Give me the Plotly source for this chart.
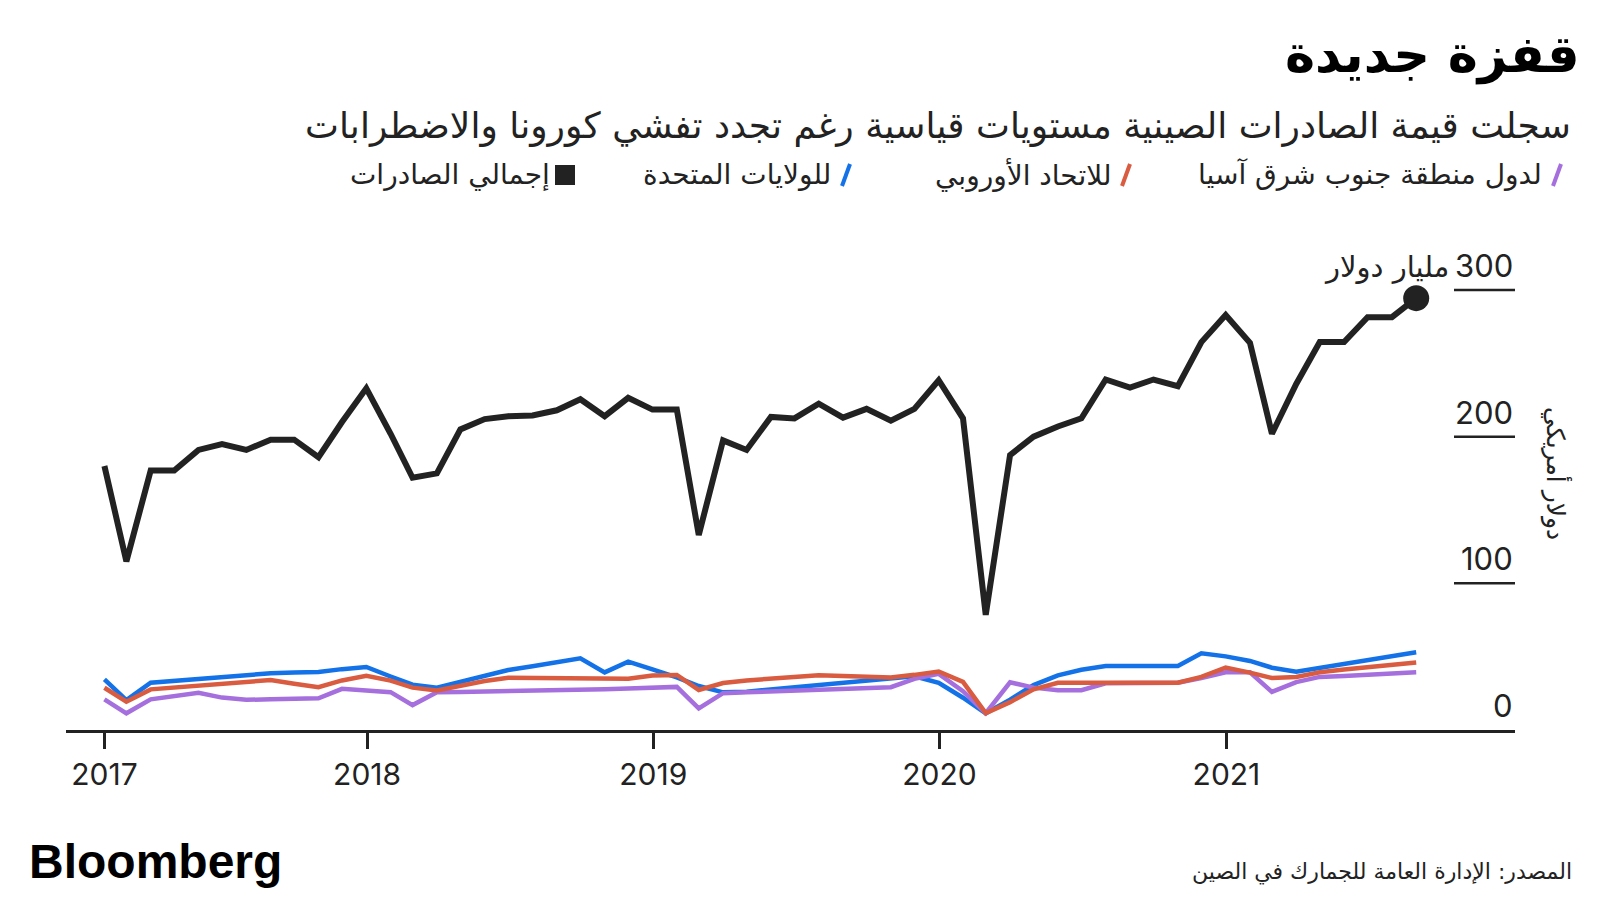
import pandas as pd
import plotly.graph_objects as go

# ---------------- data (billion USD, monthly, Jan 2017 - Aug 2021) ----------------
months = pd.date_range("2017-01-31", periods=56, freq="ME")

total_exports = [
    180, 115, 177, 177, 191, 195, 191, 198, 198, 186, 210, 233,
    202, 172, 175, 205, 212, 214, 214.5, 218, 225.5, 214, 226.5, 218.5,
    218.5, 133, 197.5, 191, 213.5, 212.5, 222.5, 213, 219, 211, 219, 238.5,
    212.5, 78.5, 187.5, 200, 207, 212.5, 239, 233.5, 239, 234.5, 264.5, 283,
    264, 202, 236, 264.5, 264.5, 281.5, 281.5, 294.5,
]
us_exports = [
    34.6, 20.4, 32.2, 33.6, 34.9, 36.2, 37.4, 38.7, 39.2, 39.5, 41.5, 43.0,
    36.5, 30.9, 28.8, 33.0, 37.3, 40.9, 43.5, 46.2, 48.9, 39.3, 46.6, 41.4,
    35.9, 30.0, 25.7, 26.1, 27.6, 29.0, 30.5, 31.9, 33.4, 34.9, 36.6, 32.2,
    22.0, 11.4, 20.7, 30.6, 37.3, 41.1, 43.6, 43.6, 43.6, 43.6, 52.3, 50.2,
    47.1, 42.5, 39.8, 42.4, 45.1, 47.7, 50.3, 53.0,
]
eu_exports = [
    28.8, 19.3, 27.7, 29.1, 30.4, 31.6, 32.9, 34.1, 31.6, 29.2, 33.8, 37.0,
    33.7, 28.9, 27.0, 30.2, 33.4, 35.6, 35.5, 35.4, 35.2, 35.0, 35.0, 37.2,
    37.5, 27.3, 32.0, 33.8, 35.2, 36.6, 37.3, 36.8, 36.3, 35.8, 37.6, 39.9,
    32.8, 11.5, 19.0, 27.8, 32.2, 32.2, 32.2, 32.2, 32.2, 32.2, 36.2, 42.6,
    39.1, 35.5, 36.2, 39.4, 41.2, 42.8, 44.4, 46.1,
]
asean_exports = [
    20.9, 11.4, 20.9, 23.1, 25.4, 22.1, 20.6, 20.9, 21.3, 21.6, 28.1, 27.0,
    25.8, 17.0, 25.7, 25.9, 26.1, 26.3, 26.5, 26.7, 27.3, 27.8, 28.3, 28.9,
    29.4, 14.8, 25.1, 25.7, 26.3, 26.9, 27.4, 28.0, 28.6, 29.2, 34.9, 38.3,
    26.5, 11.5, 32.5, 28.9, 27.1, 27.1, 31.8, 32.0, 32.1, 32.2, 35.5, 39.3,
    39.3, 26.0, 32.7, 36.2, 36.9, 37.7, 38.5, 39.3,
]

year_tickvals = ["2017-01-31", "2018-01-01", "2019-01-01", "2020-01-01", "2021-01-01"]
year_ticktext = ["2017", "2018", "2019", "2020", "2021"]
y_ticks = [0, 100, 200, 300]

title_text = "قفزة جديدة"
subtitle_text = "سجلت قيمة الصادرات الصينية مستويات قياسية رغم تجدد تفشي كورونا والاضطرابات"
legend_items = [
    ("لدول منطقة جنوب شرق آسيا", "#A56FDD", "slash"),
    ("للاتحاد الأوروبي", "#D95B40", "slash"),
    ("للولايات المتحدة", "#1372E8", "slash"),
    ("إجمالي الصادرات", "#222222", "square"),
]
unit_text = "مليار دولار"
axis_title_text = "دولار أمريكي"
source_text = "المصدر: الإدارة العامة للجمارك في الصين"

# ---------------- styling / layout ----------------
OFF = 8                      # default page body margin
W, H = 1600 - OFF, 900 - OFF
L, R, T = 66 - OFF, 85, 260 - OFF
B = H - (730 - OFF)
PW, PH = W - L - R, H - T - B
AR = "DejaVu Sans, Noto Sans, sans-serif"
NUM = "Inter, Roboto, sans-serif"
INK = "#222222"


def px(x):
    """screen x (page px) -> paper fraction"""
    return (x - OFF - L) / PW


def py(y):
    """screen y (page px) -> paper fraction"""
    return (H - B - (y - OFF)) / PH


fig = go.Figure()
fig.add_trace(go.Scatter(x=months, y=us_exports, mode="lines",
                         line=dict(color="#1372E8", width=4.5), showlegend=False))
fig.add_trace(go.Scatter(x=months, y=asean_exports, mode="lines",
                         line=dict(color="#A56FDD", width=4.5), showlegend=False))
fig.add_trace(go.Scatter(x=months, y=eu_exports, mode="lines",
                         line=dict(color="#D95B40", width=4.5), showlegend=False))
fig.add_trace(go.Scatter(x=months, y=total_exports, mode="lines",
                         line=dict(color=INK, width=6), showlegend=False))
fig.add_trace(go.Scatter(x=[months[-1]], y=[total_exports[-1]], mode="markers",
                         marker=dict(color=INK, size=26), showlegend=False,
                         cliponaxis=False))

shapes = []
annotations = []
# right-hand y tick marks and labels
for t in y_ticks:
    if t > 0:
        shapes.append(dict(type="line", xref="paper", yref="y", x0=px(1454), x1=1,
                           y0=t, y1=t, line=dict(color=INK, width=2.5)))
    annotations.append(dict(xref="paper", yref="y", x=1, y=t, xanchor="right",
                            yanchor="bottom", yshift=4, showarrow=False,
                            text=str(t), font=dict(family=NUM, size=31, color=INK)))
annotations.append(dict(xref="paper", yref="y", x=px(1451), y=300, xanchor="right",
                        yanchor="bottom", yshift=4, showarrow=False, text=unit_text,
                        font=dict(family=AR, size=29, color=INK)))
annotations.append(dict(xref="paper", yref="paper", x=px(1557), y=py(474),
                        xanchor="center", yanchor="middle", showarrow=False,
                        textangle=90, text=axis_title_text,
                        font=dict(family=AR, size=25, color=INK)))

# title / subtitle
annotations.append(dict(xref="paper", yref="paper", x=px(1582), y=py(55),
                        xanchor="right", yanchor="middle", showarrow=False,
                        text="<b>" + title_text + "</b>",
                        font=dict(family=AR, size=51, color="#000000")))
annotations.append(dict(xref="paper", yref="paper", x=px(938), y=py(126),
                        xanchor="center", yanchor="middle", showarrow=False,
                        text=subtitle_text, font=dict(family=AR, size=36, color=INK)))

# legend (RTL, glyph on the right of the text)
legend_glyph_x = [1557, 1126, 846, 565]
legend_y = 175
for (label, color, kind), gx in zip(legend_items, legend_glyph_x):
    if kind == "slash":
        shapes.append(dict(type="line", xref="paper", yref="paper",
                           x0=px(gx - 4), x1=px(gx + 4), y0=py(legend_y + 11),
                           y1=py(legend_y - 11), line=dict(color=color, width=4)))
    else:
        shapes.append(dict(type="rect", xref="paper", yref="paper",
                           x0=px(gx - 10), x1=px(gx + 10), y0=py(legend_y + 10),
                           y1=py(legend_y - 10), fillcolor=color, line=dict(width=0)))
    annotations.append(dict(xref="paper", yref="paper", x=px(gx - 13), y=py(legend_y),
                            xanchor="right", yanchor="middle", showarrow=False,
                            text=label, font=dict(family=AR, size=28, color=INK)))

# footer
annotations.append(dict(xref="paper", yref="paper", x=px(27), y=py(861),
                        xanchor="left", yanchor="middle", showarrow=False,
                        text="<b>Bloomberg</b>",
                        font=dict(family="Liberation Sans, Arial, sans-serif", size=48,
                                  color="#000000")))
annotations.append(dict(xref="paper", yref="paper", x=px(1574), y=py(872),
                        xanchor="right", yanchor="middle", showarrow=False,
                        text=source_text, font=dict(family=AR, size=22, color=INK)))

fig.update_layout(
    width=W, height=H,
    margin=dict(l=L, r=R, t=T, b=B, pad=0),
    paper_bgcolor="white", plot_bgcolor="white",
    shapes=shapes, annotations=annotations,
    xaxis=dict(type="date", range=["2016-12-13", "2022-01-04"],
               tickvals=year_tickvals, ticktext=year_ticktext,
               showgrid=False, zeroline=False, showline=True, linecolor=INK,
               linewidth=3, ticks="outside", ticklen=16, tickwidth=2.5,
               tickcolor=INK, tickfont=dict(family=NUM, size=30, color=INK)),
    yaxis=dict(range=[0, 320.5], visible=False, showgrid=False, zeroline=False),
)

fig.write_html("out.html")
